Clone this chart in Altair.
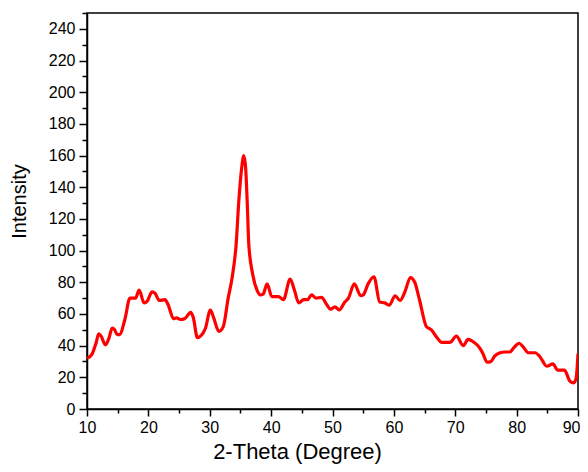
import altair as alt
import pandas as pd

two_theta = [10.0, 10.8, 11.5, 11.9, 12.3, 13.0, 13.6, 14.1, 14.5, 14.9, 15.3, 16.2, 17.0, 17.9, 18.5,
             19.3, 19.8, 20.6, 21.1, 21.8, 22.7, 23.2, 24.1, 24.6, 25.2, 25.9, 26.9, 27.3, 28.0, 28.5,
             29.3, 30.1, 30.6, 31.5, 32.2, 33.0, 33.65, 34.3, 34.73, 35.2, 35.55, 35.85, 36.1, 36.36,
             37.0, 37.7, 38.25, 38.7, 39.35, 40.1, 41.2, 42.0, 43.1, 43.8, 44.5, 45.3, 45.9, 46.6,
             47.3, 48.2, 49.05, 49.7, 50.4, 51.1, 52.0, 52.6, 53.55, 54.6, 55.0, 55.8, 56.75, 57.7,
             58.5, 59.25, 60.2, 61.0, 61.8, 62.7, 63.4, 64.2, 65.3, 66.1, 66.95, 67.8, 69.1, 70.2,
             71.3, 72.1, 72.9, 74.0, 74.5, 75.2, 75.8, 76.45, 77.3, 78.1, 78.9, 79.5, 80.4, 81.0,
             81.9, 83.0, 83.8, 84.9, 85.9, 86.7, 87.8, 88.7, 89.3, 89.7, 90.0]
intensity = [32, 34.5, 42, 47.5, 46, 40.5, 45, 51, 50, 47, 47, 57, 70, 70, 75,
             67, 68, 74, 73, 68.5, 69, 66, 57, 57.5, 56.5, 57, 61, 58, 45, 46,
             51, 62.5, 58, 49, 52, 70, 83, 104, 131, 152, 160, 152, 131, 104,
             85, 75, 72, 72.5, 79, 71, 71, 69, 82, 75, 67, 69, 69, 72,
             70, 70.5, 66, 63, 64.5, 62.5, 67.5, 70, 79, 71.5, 72, 79, 83.5, 67.5,
             67, 65.5, 71.5, 68.5, 74, 83, 80, 68.5, 52, 50, 45.5, 42, 42, 46,
             40, 44, 42.5, 38.5, 35, 29.5, 30, 33.5, 35.5, 36, 36, 38.5, 41.5, 39.5,
             35.5, 35.5, 33, 27, 28.5, 24.5, 24.5, 17.5, 16.5, 19.5, 35]

x_ticks = list(range(10, 91, 5))
y_ticks = list(range(0, 251, 10))

df = pd.DataFrame({"x": two_theta, "y": intensity})

FONT = "Liberation Sans"

chart = alt.Chart(df).mark_line(
    color="#ff0000", strokeWidth=3.2, interpolate="monotone", clip=True
).encode(
    x=alt.X("x:Q", scale=alt.Scale(domain=[10, 90], nice=False, zero=False),
            axis=alt.Axis(
                values=x_ticks, title="2-Theta (Degree)",
                labelExpr="datum.value % 10 === 0 ? datum.label : ''",
                tickSize={"condition": {"test": "datum.value % 10 === 0", "value": 7}, "value": 4},
                labelAlign={"condition": {"test": "datum.value === 90", "value": "right"}, "value": "center"},
                labelOffset={"condition": {"test": "datum.value === 90", "value": 2}, "value": 0},
                grid=False, labelFont=FONT, labelFontSize=16, labelColor="#000",
                labelPadding=3, labelOverlap=False, labelFlush=False,
                titleFont=FONT, titleFontSize=22, titleFontWeight="normal", titleColor="#000",
                titleX=210, titleY=49, titleBaseline="alphabetic", titleAlign="center",
                domainColor="#000", domainWidth=1.5, tickColor="#000", tickWidth=1.5)),
    y=alt.Y("y:Q", scale=alt.Scale(domain=[0, 250], nice=False),
            axis=alt.Axis(
                values=y_ticks, title="Intensity",
                labelExpr="datum.value % 20 === 0 && datum.value <= 240 ? datum.label : ''",
                tickSize={"condition": {"test": "datum.value % 20 === 0", "value": 8}, "value": 5},
                grid=False, labelFont=FONT, labelFontSize=16, labelColor="#000",
                labelPadding=4, labelOverlap=False, labelFlush=False,
                titleFont=FONT, titleFontSize=20, titleFontWeight="normal", titleColor="#000",
                titleX=-62, titleY=188, titleBaseline="alphabetic", titleAlign="center",
                domainColor="#000", domainWidth=1.5, tickColor="#000", tickWidth=1.5)),
).properties(
    width=491, height=396,
    autosize=alt.AutoSizeParams(type="none"),
    padding={"left": 79, "top": 5, "right": 2, "bottom": 55},
).configure_view(
    stroke="#000", strokeWidth=1.5
)

chart.save("out.html", embed_options={"renderer": "svg", "actions": False})
